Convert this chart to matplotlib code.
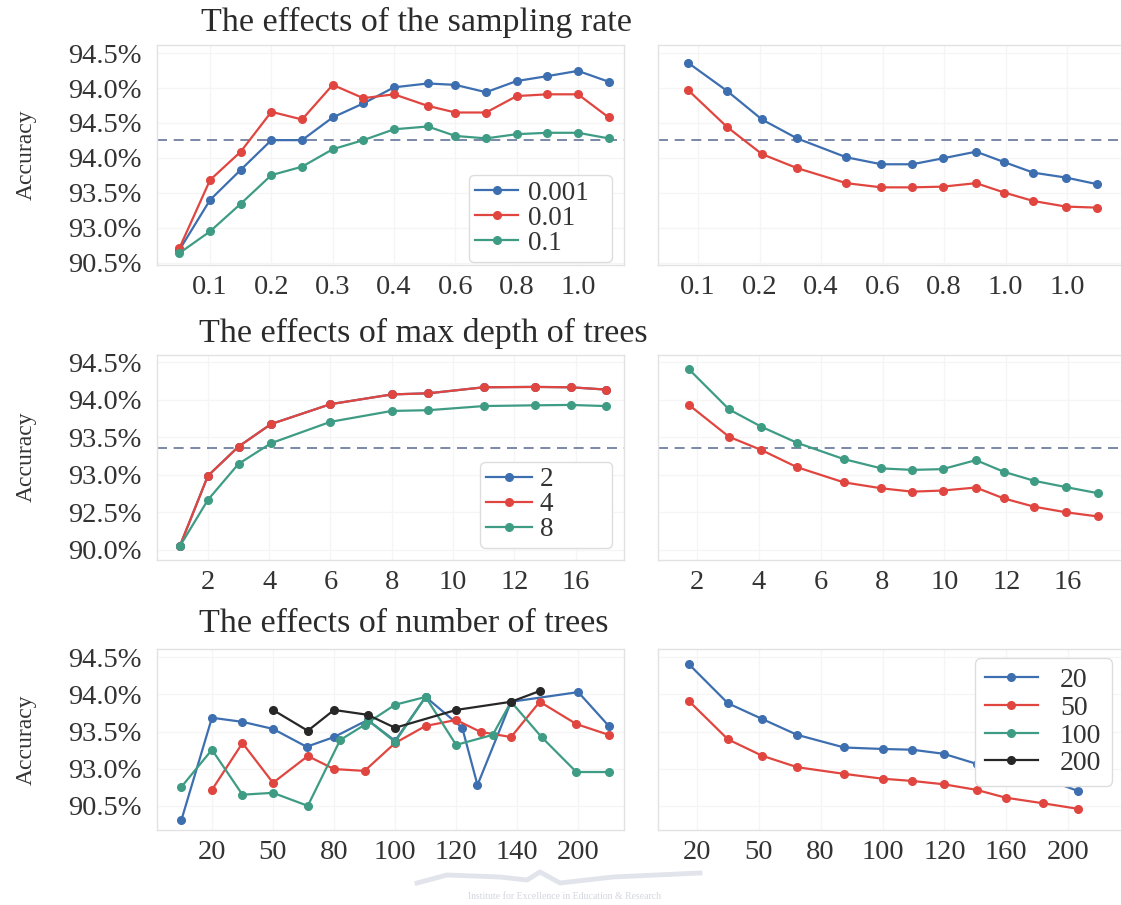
import numpy as np
import matplotlib
matplotlib.use('Agg')
import matplotlib.pyplot as plt
from matplotlib.lines import Line2D

plt.rcParams.update({
    "font.family": ["Liberation Serif", "DejaVu Serif"],
    "text.color": "#333333",
    "xtick.color": "#333333",
    "ytick.color": "#333333",
})

BLUE = '#3d6fb0'
RED = '#e0463f'
GREEN = '#3f9c84'
BLACK = '#272727'
DASH = '#65739a'

# ---------------- data (positions are in category units of each x axis) -------------
# row 1: sampling rate
rate_ticks = ['0.1', '0.2', '0.3', '0.4', '0.6', '0.8', '1.0']
rate_ticks_r = ['0.1', '0.2', '0.4', '0.6', '0.8', '1.0', '1.0']
rate_yticks = ['90.5%', '93.0%', '93.5%', '94.0%', '94.5%', '94.0%', '94.5%']
rate_x = [-0.5, 0, 0.5, 1, 1.5, 2, 2.5, 3, 3.55, 4, 4.5, 5, 5.5, 6, 6.5]
rate_001 = [0.37, 1.8, 2.66, 3.51, 3.51, 4.16, 4.56, 5.02, 5.13, 5.09, 4.88, 5.2, 5.34, 5.49, 5.18]
rate_01 = [0.42, 2.37, 3.18, 4.32, 4.1, 5.09, 4.71, 4.82, 4.49, 4.3, 4.3, 4.77, 4.82, 4.82, 4.16]
rate_1 = [0.28, 0.9, 1.69, 2.51, 2.75, 3.25, 3.51, 3.82, 3.9, 3.63, 3.56, 3.68, 3.72, 3.72, 3.56]
rate_ref = 3.51
rate_x_r = [-0.16, 0.47, 1.04, 1.61, 2.41, 2.98, 3.48, 3.98, 4.52, 4.98, 5.45, 5.98, 6.49]
rate_blue_r = [5.72, 4.92, 4.1, 3.56, 3.02, 2.82, 2.82, 2.99, 3.18, 2.88, 2.58, 2.44, 2.25]
rate_red_r = [4.94, 3.89, 3.11, 2.71, 2.28, 2.16, 2.16, 2.18, 2.28, 2.01, 1.77, 1.61, 1.58]

# row 2: max depth
depth_ticks = ['2', '4', '6', '8', '10', '12', '16']
depth_yticks = ['90.0%', '92.5%', '93.0%', '93.5%', '94.0%', '94.5%']
depth_x = [-0.46, 0, 0.5, 1.03, 2.0, 3.0, 3.6, 4.5, 5.33, 5.92, 6.49]
depth_2 = [0.09, 1.97, 2.75, 3.35, 3.88, 4.14, 4.17, 4.33, 4.34, 4.33, 4.27]
depth_4 = [0.09, 1.97, 2.75, 3.35, 3.88, 4.14, 4.17, 4.33, 4.34, 4.33, 4.27]
depth_8 = [0.09, 1.33, 2.29, 2.84, 3.41, 3.7, 3.72, 3.83, 3.85, 3.86, 3.83]
depth_ref = 2.7
depth_x_r = [-0.13, 0.52, 1.04, 1.62, 2.37, 2.98, 3.48, 3.97, 4.51, 4.96, 5.45, 5.97, 6.48]
depth_green_r = [4.81, 3.74, 3.28, 2.85, 2.42, 2.17, 2.13, 2.15, 2.39, 2.08, 1.84, 1.67, 1.51]
depth_red_r = [3.86, 3.01, 2.66, 2.2, 1.8, 1.64, 1.55, 1.58, 1.66, 1.37, 1.15, 1.0, 0.89]

# row 3: number of trees
trees_ticks = ['20', '50', '80', '100', '120', '140', '200']
trees_ticks_r = ['20', '50', '80', '100', '120', '160', '200']
trees_yticks = ['90.5%', '93.0%', '93.5%', '94.0%', '94.5%']
t20_x = [-0.5, 0, 0.5, 1, 1.55, 2, 2.55, 3, 3.5, 4.1, 4.35, 4.9, 6, 6.5]
t20_y = [-0.38, 2.37, 2.26, 2.07, 1.59, 1.85, 2.31, 1.75, 2.93, 2.1, 0.56, 2.8, 3.06, 2.15]
t50_x = [0, 0.5, 1, 1.57, 2.0, 2.5, 3.0, 3.5, 4.0, 4.4, 4.9, 5.37, 5.97, 6.5]
t50_y = [0.43, 1.69, 0.62, 1.34, 0.99, 0.94, 1.69, 2.15, 2.31, 1.99, 1.85, 2.8, 2.2, 1.91]
t100_x = [-0.5, 0, 0.5, 1, 1.57, 2.1, 2.5, 3, 3.5, 4, 4.6, 4.9, 5.4, 5.97, 6.5]
t100_y = [0.51, 1.51, 0.3, 0.35, 0, 1.77, 2.18, 2.72, 2.93, 1.64, 1.91, 2.8, 1.85, 0.91, 0.91]
t100b_x = [2.55, 3.0, 3.5]
t100b_y = [2.31, 1.72, 2.93]
t200_x = [1, 1.57, 2, 2.55, 3.0, 4, 4.9, 5.37]
t200_y = [2.58, 2.02, 2.58, 2.45, 2.1, 2.58, 2.8, 3.09]
trees_x_r = [-0.13, 0.5, 1.05, 1.62, 2.38, 3.0, 3.48, 3.99, 4.52, 4.99, 5.59, 6.16]
trees_blue_r = [3.81, 2.76, 2.34, 1.91, 1.57, 1.53, 1.51, 1.4, 1.13, 0.97, 0.75, 0.4]
trees_red_r = [2.82, 1.79, 1.35, 1.04, 0.86, 0.73, 0.67, 0.58, 0.43, 0.22, 0.07, -0.08]

W, H = 1121, 905
fig = plt.figure(figsize=(W / 100, H / 100), dpi=100)


def px_axes(x0, y0, x1, y1):
    return fig.add_axes([x0 / W, 1 - y1 / H, (x1 - x0) / W, (y1 - y0) / H])


def style(ax, xticks, yticks, xlim, ylim, show_y):
    ax.set_xlim(*xlim)
    ax.set_ylim(*ylim)
    ax.set_xticks(range(len(xticks)))
    ax.set_xticklabels(xticks, fontsize=20.5)
    ax.set_yticks(range(len(yticks)))
    if show_y:
        ax.set_yticklabels(yticks, fontsize=20.5)
    else:
        ax.set_yticklabels([])
    ax.tick_params(length=0, pad=7)
    ax.tick_params(axis='y', pad=11)
    ax.grid(True, color='#f5f5f5', lw=1)
    ax.set_axisbelow(True)
    for s in ax.spines.values():
        s.set_color('#e2e2e2')
        s.set_linewidth(1.0)


def legend_box(ax, handles, labels, bbox, loc, hl, htp, fs=20, ls=0.08, bp=0.35):
    ax.legend(handles, labels, loc=loc, bbox_to_anchor=bbox, mode='expand', borderaxespad=0,
              fontsize=fs, handlelength=hl, handletextpad=htp, labelspacing=ls,
              borderpad=bp, edgecolor='#dddddd', framealpha=1, fancybox=True)


kw = dict(marker='o', ms=5.5, lw=1.6)

# ---- row 1
ax = px_axes(157, 45, 624, 265)
style(ax, rate_ticks, rate_yticks, (-0.865, 6.75), (-0.06, 6.23), True)
ax.axhline(rate_ref, color=DASH, ls=(0, (6, 4)), lw=1.2)
l1, = ax.plot(rate_x, rate_001, color=BLUE, **kw)
l2, = ax.plot(rate_x, rate_01, color=RED, **kw)
l3, = ax.plot(rate_x, rate_1, color=GREEN, **kw)
legend_box(ax, [l1, l2, l3], ['0.001', '0.01', '0.1'], (0.668, 0.014, 0.306, 0.4), 'lower left',
           1.6, 0.35, fs=19.5, ls=0.0, bp=0.22)

ax = px_axes(658, 45, 1125, 265)
style(ax, rate_ticks_r, rate_yticks, (-0.65, 6.94), (-0.06, 6.23), False)
ax.axhline(rate_ref, color=DASH, ls=(0, (6, 4)), lw=1.2)
ax.plot(rate_x_r, rate_blue_r, color=BLUE, **kw)
ax.plot(rate_x_r, rate_red_r, color=RED, **kw)

# ---- row 2
ax = px_axes(157, 355, 624, 560)
style(ax, depth_ticks, depth_yticks, (-0.83, 6.79), (-0.27, 5.19), True)
ax.axhline(depth_ref, color=DASH, ls=(0, (6, 4)), lw=1.2)
l1, = ax.plot(depth_x, depth_2, color=BLUE, **kw)
l2, = ax.plot(depth_x, depth_4, color=RED, **kw)
l3, = ax.plot(depth_x, depth_8, color=GREEN, **kw)
legend_box(ax, [l1, l2, l3], ['2', '4', '8'], (0.692, 0.059, 0.283, 0.42), 'lower left',
           1.7, 0.3, fs=19.5, ls=0.0, bp=0.2)

ax = px_axes(658, 355, 1125, 560)
style(ax, depth_ticks, depth_yticks, (-0.63, 6.92), (-0.27, 5.19), False)
ax.axhline(depth_ref, color=DASH, ls=(0, (6, 4)), lw=1.2)
ax.plot(depth_x_r, depth_green_r, color=GREEN, **kw)
ax.plot(depth_x_r, depth_red_r, color=RED, **kw)

# ---- row 3
ax = px_axes(157, 649, 624, 830)
style(ax, trees_ticks, trees_yticks, (-0.9, 6.75), (-0.65, 4.22), True)
ax.plot(t20_x, t20_y, color=BLUE, **kw)
ax.plot(t50_x, t50_y, color=RED, **kw)
ax.plot(t100_x, t100_y, color=GREEN, **kw)
ax.plot(t100b_x, t100b_y, color=GREEN, **kw)
ax.plot(t200_x, t200_y, color=BLACK, **kw)

ax = px_axes(658, 649, 1125, 830)
style(ax, trees_ticks_r, trees_yticks, (-0.63, 6.92), (-0.65, 4.22), False)
ax.plot(trees_x_r, trees_blue_r, color=BLUE, **kw)
ax.plot(trees_x_r, trees_red_r, color=RED, **kw)
handles = [Line2D([], [], color=c, **kw) for c in (BLUE, RED, GREEN, BLACK)]
legend_box(ax, handles, ['20', '50', '100', '200'], (0.679, 0.5, 0.293, 0.45), 'upper left', 1.9, 0.8)

# ---- titles and axis labels
titles = [('The effects of the sampling rate', 416, 22),
          ('The effects of max depth of trees', 423, 333),
          ('The effects of number of trees', 404, 624)]
for txt, x, y in titles:
    fig.text(x / W, 1 - y / H, txt, fontsize=24.5, ha='center', va='center', color='#2b2b2b')
for y in (155, 457, 740):
    fig.text(26 / W, 1 - y / H, 'Accuracy', fontsize=17, rotation=90, ha='center', va='center',
             color='#333333')

# faint watermark
sx = [417, 447, 500, 527, 540, 560, 613, 700]
sy = [883, 875, 877, 880, 872, 883, 877, 873]
fig.add_artist(Line2D([v / W for v in sx], [1 - v / H for v in sy], color='#e2e4ec', lw=3.5,
                      transform=fig.transFigure))
fig.text(565 / W, 1 - 896 / H, 'Institute for Excellence in Education & Research', fontsize=7,
         ha='center', va='center', color='#d3d6e0')

fig.savefig('out.png', dpi=100)
